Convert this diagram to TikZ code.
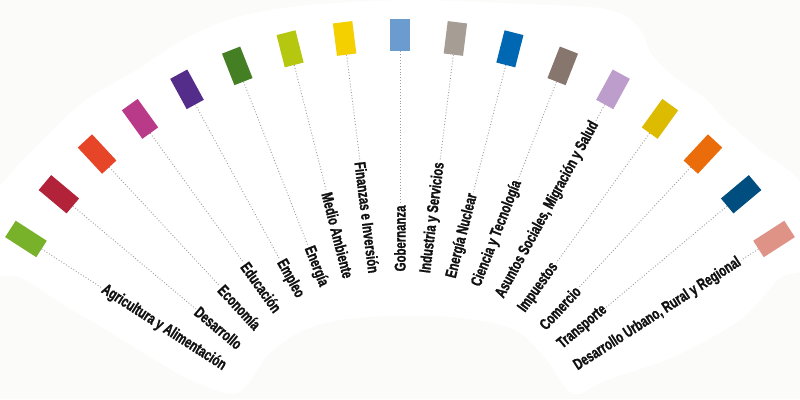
\documentclass[tikz,border=0pt]{standalone}
\usepackage{fontspec}
\usetikzlibrary{calc}
\newfontfamily\labfont{Liberation Sans}[FakeStretch=0.72, BoldFeatures={FakeBold=1.2}]
\definecolor{bgc}{HTML}{FBFBF9}
\definecolor{txtc}{HTML}{111111}
\definecolor{dotc}{HTML}{9C9C9C}
\definecolor{c1}{HTML}{78B22A}
\definecolor{c2}{HTML}{B22238}
\definecolor{c3}{HTML}{E64528}
\definecolor{c4}{HTML}{BA3A8A}
\definecolor{c5}{HTML}{532D89}
\definecolor{c6}{HTML}{457F24}
\definecolor{c7}{HTML}{B6C70F}
\definecolor{c8}{HTML}{F4D000}
\definecolor{c9}{HTML}{6C9BD0}
\definecolor{c10}{HTML}{A69E95}
\definecolor{c11}{HTML}{0067B2}
\definecolor{c12}{HTML}{87766E}
\definecolor{c13}{HTML}{BC9DCB}
\definecolor{c14}{HTML}{DDBB00}
\definecolor{c15}{HTML}{EB6C0B}
\definecolor{c16}{HTML}{004D80}
\definecolor{c17}{HTML}{DF9387}
\begin{document}
\begin{tikzpicture}[x=1pt,y=-1pt,
  tile/.style={draw=none, inner sep=0pt, minimum width=19.5pt},
  lab/.style={font=\labfont\bfseries\fontsize{15.8}{18}\selectfont, text=txtc, inner sep=1.5pt},
  dotline/.style={draw=dotc, line width=0.9pt, dash pattern=on 0.9pt off 2pt}]
\path[use as bounding box] (0,0) rectangle (800,399);
\fill[bgc] (0,0) rectangle (800,399);
\begin{scope}
\clip (0,0) rectangle (800,399);
\fill[white] plot[smooth cycle, tension=0.55] coordinates {
 (-5,270) (-5,200) (12,172) (43,140) (83,102) (133,72) (183,40) (233,18)
 (290,7) (350,2) (417,0) (483,2) (550,5) (600,8) (625,16) (642,32) (652,55)
 (678,80) (705,98) (725,120) (760,150) (805,190) (805,265) (780,278)
 (740,320) (673,357) (607,380) (573,394) (548,362) (515,330) (460,318)
 (400,316) (340,320) (300,332) (268,355) (238,393) (193,381) (150,357)
 (100,326) (67,307) (22,278)};
\end{scope}
\coordinate (C) at (400,480);
\foreach \i/\txt in {1/{Agricultura y Alimentación}, 2/{Desarrollo}, 3/{Economía},
  4/{Educación}, 5/{Empleo}, 6/{Energía}, 7/{Medio Ambiente},
  8/{Finanzas e Inversión}, 9/{Gobernanza}, 10/{Industria y Servicios},
  11/{Energía Nuclear}, 12/{Ciencia y Tecnología},
  13/{Asuntos Sociales, Migración y Salud}, 14/{Impuestos}, 15/{Comercio},
  16/{Transporte}, 17/{Desarrollo Urbano, Rural y Regional}}{
  \pgfmathsetmacro\ang{90+(9-\i)*7.15}
  \pgfmathsetmacro\ra{\ang-90}
  \pgfmathsetmacro\rl{\ang-180}
  \pgfmathsetmacro\len{32+5*abs(\i-9)/8}
  \node[tile, fill=c\i, minimum height=\len pt, rotate=\ra] (r\i) at ($(C)+(-\ang:445)$) {};
  \ifnum\i<9
    \node[lab, rotate=\rl, anchor=east] (t\i) at ($(C)+(-\ang:207)$) {\txt};
    \draw[dotline] (r\i.south) -- (t\i.west);
  \else
    \node[lab, rotate=\ang, anchor=west] (t\i) at ($(C)+(-\ang:207)$) {\txt};
    \draw[dotline] (r\i.south) -- (t\i.east);
  \fi
}
\end{tikzpicture}
\end{document}
